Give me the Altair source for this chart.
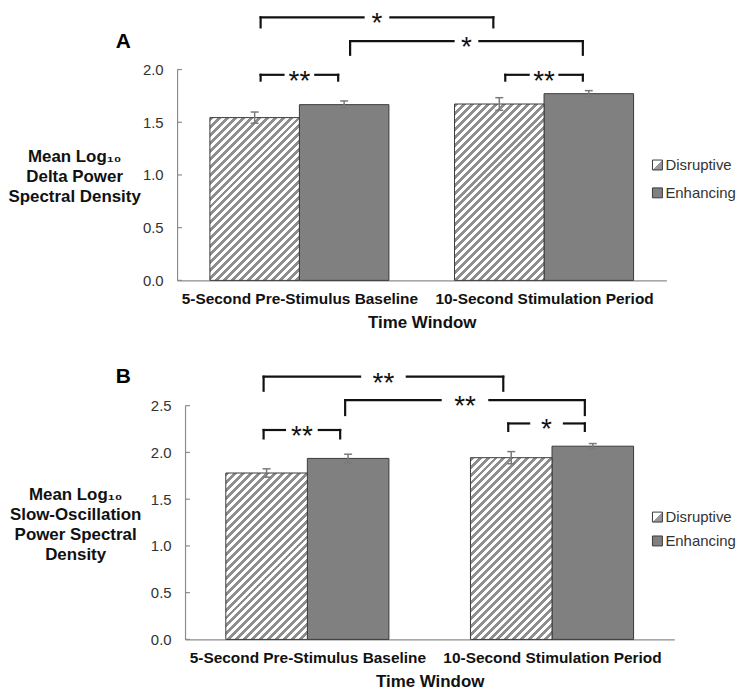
import altair as alt
import pandas as pd

# ---------------- data ----------------
groups = ["5-Second Pre-Stimulus Baseline", "10-Second Stimulation Period"]
series = ["Disruptive", "Enhancing"]

# Panel A: mean log10 delta power spectral density
delta_disruptive = [1.544, 1.673]
delta_enhancing = [1.667, 1.771]
delta_disruptive_se = [0.053, 0.060]
delta_enhancing_se = [0.035, 0.029]
delta_ticks = [0.0, 0.5, 1.0, 1.5, 2.0]

# Panel B: mean log10 slow-oscillation power spectral density
so_disruptive = [1.780, 1.944]
so_enhancing = [1.936, 2.067]
so_disruptive_se = [0.045, 0.065]
so_enhancing_se = [0.045, 0.028]
so_ticks = [0.0, 0.5, 1.0, 1.5, 2.0, 2.5]

# significance comparisons: (group index, series) pairs and their labels
sig_left = [(0, "Disruptive"), (0, "Enhancing"), (0, "Disruptive"), (1, "Disruptive")]
sig_right = [(1, "Disruptive"), (1, "Enhancing"), (0, "Enhancing"), (1, "Enhancing")]
delta_sig_label = ["*", "*", "**", "**"]
so_sig_label = ["**", "**", "**", "*"]

# bracket heights (data units): horizontal level and end of the drop
delta_sig_level = [2.495, 2.27, 1.95, 1.95]
delta_sig_drop = [2.40, 2.14, 1.895, 1.895]
so_sig_level = [2.81, 2.56, 2.24, 2.31]
so_sig_drop = [2.66, 2.40, 2.15, 2.23]

# ---------------- style ----------------
FONT = "Liberation Sans"
AXIS_GRAY = "#8c8c8c"
BAR_EDGE = "#3a3a3a"
ENH_FILL = "#808080"
HATCH_GRAY = "#8e8e8e"
ERR_GRAY = "#7a7a7a"
TEXT_DARK = "#333333"
STEP_PX = 246.0  # pixel width of one time-window band


def hatch_gradient(w_px, h_px, period=8.0, frac=0.5, color=HATCH_GRAY):
    """Diagonal '/' stripes at 45 degrees drawn as a hard-stop linear gradient."""
    L = w_px + h_px
    k = L / (w_px ** 2 + h_px ** 2)
    stops = []
    i = 0
    while i * period < L:
        a = i * period / L
        b = min((i * period + period * frac) / L, 1.0)
        c = min((i + 1) * period / L, 1.0)
        stops += [
            {"offset": round(a, 5), "color": color},
            {"offset": round(b, 5), "color": color},
            {"offset": round(b, 5), "color": "#ffffff"},
            {"offset": round(c, 5), "color": "#ffffff"},
        ]
        i += 1
    return {"gradient": "linear", "x1": 0, "y1": 0,
            "x2": round(w_px * k, 5), "y2": round(h_px * k, 5), "stops": stops}


SWATCH_HATCH = {"gradient": "linear", "x1": 0, "y1": 0, "x2": 1, "y2": 1,
                "stops": [{"offset": 0, "color": "#ffffff"}, {"offset": 0.5, "color": "#ffffff"},
                          {"offset": 0.5, "color": "#9a9a9a"}, {"offset": 1, "color": "#9a9a9a"}]}


def build_panel(letter, title_lines, dis, enh, dis_se, enh_se, ticks, ymax,
                labels, levels, drops, height, x_start, bar_px, gap_px,
                adj_left, adj_right, legend_y, title_x, title_y, letter_y):
    px_per_y = height / ymax
    bw = bar_px / STEP_PX
    rows = []
    for g in range(2):
        for s, name in enumerate(series):
            val = (dis if s == 0 else enh)[g]
            se = (dis_se if s == 0 else enh_se)[g]
            left = g + 0.5 - bw + s * bw
            rows.append(dict(group=groups[g], series=name, g=g, value=val, se=se,
                             x0=left, x1=left + bw, xc=left + bw / 2, zero=0.0,
                             lo=val - se, hi=val + se,
                             cap0=left + bw / 2 - 4 / STEP_PX,
                             cap1=left + bw / 2 + 4 / STEP_PX))
    bars = pd.DataFrame(rows)

    def center(key):
        g, name = key
        r = bars[(bars.g == g) & (bars.series == name)].iloc[0]
        return r.xc

    segs, stars = [], []
    for i in range(len(labels)):
        lx = center(sig_left[i]) + adj_left / STEP_PX
        rx = center(sig_right[i]) + adj_right / STEP_PX
        mid = (lx + rx) / 2
        half = gap_px[i] / 2 / STEP_PX
        lev, drp = levels[i], drops[i]
        segs += [dict(a=lx, b=lx, y0=drp, y1=lev), dict(a=lx, b=mid - half, y0=lev, y1=lev),
                 dict(a=mid + half, b=rx, y0=lev, y1=lev), dict(a=rx, b=rx, y0=lev, y1=drp)]
        stars.append(dict(xm=mid, level=lev, label=labels[i]))
    segs = pd.DataFrame(segs)
    stars = pd.DataFrame(stars)

    width = x_start + 2 * STEP_PX
    xscale = alt.Scale(domain=[0, 2], range=[x_start, width], nice=False, zero=False)
    yscale = alt.Scale(domain=[0, ymax], nice=False, zero=True)
    label_expr = f"datum.value < 1 ? '{groups[0]}' : '{groups[1]}'"
    xaxis = alt.Axis(values=[0.5, 1.5], labelExpr=label_expr, title="Time Window",
                     ticks=False, grid=False, domainColor=AXIS_GRAY, domainWidth=1.2,
                     labelFont=FONT, labelFontSize=15.5, labelFontWeight="bold",
                     labelColor="#111111", labelPadding=11, labelFlush=False,
                     labelOverlap=False, labelLimit=400, titleFont=FONT, titleFontSize=17,
                     titleFontWeight="bold", titleColor="#111111", titlePadding=8)
    yaxis = alt.Axis(values=ticks, format=".1f", ticks=False, grid=False,
                     domainColor=AXIS_GRAY, domainWidth=1.2, labelFont=FONT,
                     labelFontSize=15, labelColor=TEXT_DARK, labelPadding=14,
                     title=None, offset=-x_start)

    def X(f):
        return alt.X(f, type="quantitative", scale=xscale, axis=xaxis)

    def Y(f):
        return alt.Y(f, type="quantitative", scale=yscale, axis=yaxis)

    layers = []
    enh_bars = alt.Chart(bars[bars.series == "Enhancing"]).mark_rect(
        fill=ENH_FILL, stroke=BAR_EDGE, strokeWidth=1).encode(
        x=X("x0"), x2="x1", y=Y("value"), y2="zero")
    layers.append(enh_bars)
    for _, r in bars[bars.series == "Disruptive"].iterrows():
        grad = hatch_gradient(bar_px, r.value * px_per_y)
        layers.append(alt.Chart(bars[(bars.series == "Disruptive") & (bars.g == r.g)]).mark_rect(
            fill=grad, stroke=BAR_EDGE, strokeWidth=1).encode(
            x=X("x0"), x2="x1", y=Y("value"), y2="zero"))

    # error bars
    layers.append(alt.Chart(bars).mark_rule(color=ERR_GRAY, strokeWidth=1.5).encode(
        x=X("xc"), y=Y("lo"), y2="hi"))
    layers.append(alt.Chart(bars).mark_rule(color=ERR_GRAY, strokeWidth=1.5).encode(
        x=X("cap0"), x2="cap1", y=Y("hi")))
    layers.append(alt.Chart(bars).mark_rule(color=ERR_GRAY, strokeWidth=1.5).encode(
        x=X("cap0"), x2="cap1", y=Y("lo")))

    # inward y ticks
    layers.append(alt.Chart(pd.DataFrame({"v": ticks})).mark_rule(
        color=AXIS_GRAY, strokeWidth=1.2).encode(
        y=Y("v"), x=alt.value(x_start), x2=alt.value(x_start + 5)))

    # significance brackets
    layers.append(alt.Chart(segs).mark_rule(color="#111111", strokeWidth=2.2,
                                            strokeCap="square").encode(
        x=X("a"), x2="b", y=Y("y0"), y2="y1"))
    layers.append(alt.Chart(stars).mark_text(font=FONT, fontSize=28, color="#111111",
                                             baseline="middle", dy=7).encode(
        x=X("xm"), y=Y("level"), text="label:N"))

    # legend
    lx = 478
    for i, name in enumerate(series):
        ly = legend_y[i]
        one = pd.DataFrame({"series": [name]})
        fill = SWATCH_HATCH if name == "Disruptive" else ENH_FILL
        layers.append(alt.Chart(one).mark_rect(fill=fill, stroke=BAR_EDGE, strokeWidth=1).encode(
            x=alt.value(lx), x2=alt.value(lx + 10), y=alt.value(ly - 5), y2=alt.value(ly + 5)))
        layers.append(alt.Chart(one).mark_text(font=FONT, fontSize=15, color=TEXT_DARK,
                                               align="left", baseline="middle").encode(
            x=alt.value(lx + 13), y=alt.value(ly), text="series:N"))

    # y-axis title (horizontal, multi-line) and panel letter
    one = pd.DataFrame({"k": [0]})
    layers.append(alt.Chart(one).mark_text(font=FONT, fontSize=17, fontWeight="bold",
                                           color="#111111", align="center", baseline="top",
                                           lineHeight=20).encode(
        x=alt.value(title_x), y=alt.value(title_y), text=alt.value(title_lines)))
    layers.append(alt.Chart(one).mark_text(font=FONT, fontSize=21, fontWeight="bold",
                                           color="#000000", align="center",
                                           baseline="middle").encode(
        x=alt.value(-54), y=alt.value(letter_y), text=alt.value(letter)))

    return alt.layer(*layers).properties(width=width, height=height)


panel_a = build_panel(
    "A", ["Mean Log₁₀", "Delta Power", "Spectral Density"],
    delta_disruptive, delta_enhancing, delta_disruptive_se, delta_enhancing_se,
    delta_ticks, 2.0, delta_sig_label, delta_sig_level, delta_sig_drop,
    height=212, x_start=0, bar_px=90, gap_px=[27, 26, 32, 31],
    adj_left=6, adj_right=-6, legend_y=[96, 124], title_x=-103, title_y=80, letter_y=-28)

panel_b = build_panel(
    "B", ["Mean Log₁₀", "Slow-Oscillation", "Power Spectral", "Density"],
    so_disruptive, so_enhancing, so_disruptive_se, so_enhancing_se,
    so_ticks, 2.5, so_sig_label, so_sig_level, so_sig_drop,
    height=235, x_start=8, bar_px=82, gap_px=[47, 49, 34, 35],
    adj_left=-3, adj_right=-8, legend_y=[112, 136], title_x=-102, title_y=82, letter_y=-29)

chart = alt.vconcat(panel_a, panel_b, spacing=35).properties(padding=0).configure_view(stroke=None)

chart.save("out.html", embed_options={"renderer": "svg", "actions": False})
